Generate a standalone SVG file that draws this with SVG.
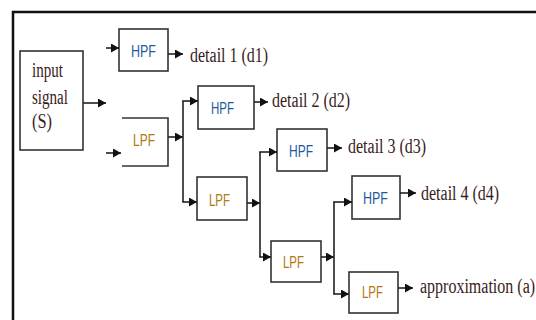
<svg xmlns="http://www.w3.org/2000/svg" width="536" height="320" viewBox="0 0 536 320">
<style>
.box{fill:#fff;stroke:#333;stroke-width:1.6}
.open{fill:none;stroke:#333;stroke-width:1.6}
.c{fill:none;stroke:#222;stroke-width:1.6}
.f{font-family:"Liberation Sans",Arial,sans-serif;font-size:17px}
.h{fill:#1f5a9e}
.l{fill:#b07810}
.t{font-family:"Liberation Serif","Times New Roman",serif;font-size:20px;fill:#3a1c1c}
.s{font-family:"Liberation Serif","Times New Roman",serif;font-size:16px;fill:#3a1c1c}
</style>
<defs>
<marker id="ah" markerWidth="9" markerHeight="9" refX="8" refY="4.5" orient="auto" markerUnits="userSpaceOnUse">
<path d="M0,0 L8,4.5 L0,9 z" fill="#111"/>
</marker>
</defs>
<rect width="536" height="320" fill="#fff"/>
<path d="M13,320 V12 H536" fill="none" stroke="#111" stroke-width="2.5"/>

<g id="input">
<rect class="box" x="20" y="51" width="63" height="99"/>
<text class="t" x="32" y="77" textLength="31" lengthAdjust="spacingAndGlyphs">input</text>
<text class="t" x="32" y="104" textLength="36" lengthAdjust="spacingAndGlyphs">signal</text>
<text class="t" x="32" y="128" textLength="20" lengthAdjust="spacingAndGlyphs">(S)</text>
</g>

<g id="hpf1">
<rect class="box" x="119" y="29" width="49" height="42"/>
<text class="f h" x="131" y="57" textLength="25" lengthAdjust="spacingAndGlyphs">HPF</text>
</g>
<g id="lpf1">
<path class="open" d="M122,118 H168 V166 H122"/>
<text class="f l" x="133" y="146" textLength="22" lengthAdjust="spacingAndGlyphs">LPF</text>
</g>
<g id="hpf2">
<rect class="box" x="198" y="86" width="56" height="43"/>
<text class="f h" x="211" y="114" textLength="23" lengthAdjust="spacingAndGlyphs">HPF</text>
</g>
<g id="lpf2">
<rect class="box" x="197" y="177" width="50" height="43"/>
<text class="f l" x="209" y="206" textLength="21" lengthAdjust="spacingAndGlyphs">LPF</text>
</g>
<g id="hpf3">
<rect class="box" x="277" y="129" width="50" height="42"/>
<text class="f h" x="289" y="157" textLength="24" lengthAdjust="spacingAndGlyphs">HPF</text>
</g>
<g id="lpf3">
<rect class="box" x="271" y="241" width="50" height="41"/>
<text class="f l" x="283" y="268" textLength="21" lengthAdjust="spacingAndGlyphs">LPF</text>
</g>
<g id="hpf4">
<rect class="box" x="352" y="176" width="48" height="43"/>
<text class="f h" x="363" y="204" textLength="25" lengthAdjust="spacingAndGlyphs">HPF</text>
</g>
<g id="lpf4">
<rect class="box" x="349" y="272" width="49" height="41"/>
<text class="f l" x="362" y="298" textLength="21" lengthAdjust="spacingAndGlyphs">LPF</text>
</g>

<g id="labels">
<text class="s" transform="translate(190,62) scale(1,1.25)">detail 1 (d1)</text>
<text class="s" transform="translate(272,107) scale(1,1.25)">detail 2 (d2)</text>
<text class="s" transform="translate(348,153) scale(1,1.25)">detail 3 (d3)</text>
<text class="s" transform="translate(421,200) scale(1,1.25)">detail 4 (d4)</text>
<text class="s" transform="translate(420,293) scale(1,1.25)" font-size="15.5">approximation (a)</text>
</g>

<g id="connectors">
<line class="c" x1="106" y1="48" x2="119" y2="48" marker-end="url(#ah)"/>
<line class="c" x1="168" y1="54" x2="183" y2="54" marker-end="url(#ah)"/>
<line class="c" x1="83" y1="103" x2="106" y2="103" marker-end="url(#ah)"/>
<line class="c" x1="106" y1="153" x2="121" y2="153" marker-end="url(#ah)"/>
<line class="c" x1="168" y1="137" x2="183" y2="137" marker-end="url(#ah)"/>
<line class="c" x1="183" y1="101" x2="183" y2="202"/>
<line class="c" x1="182.2" y1="101" x2="198" y2="101" marker-end="url(#ah)"/>
<line class="c" x1="182.2" y1="202" x2="197" y2="202" marker-end="url(#ah)"/>
<line class="c" x1="254" y1="102" x2="268" y2="102" marker-end="url(#ah)"/>
<line class="c" x1="247" y1="203" x2="260" y2="203" marker-end="url(#ah)"/>
<line class="c" x1="260" y1="152" x2="260" y2="257"/>
<line class="c" x1="259.2" y1="152" x2="277" y2="152" marker-end="url(#ah)"/>
<line class="c" x1="259.2" y1="257" x2="271" y2="257" marker-end="url(#ah)"/>
<line class="c" x1="327" y1="148" x2="342" y2="148" marker-end="url(#ah)"/>
<line class="c" x1="321" y1="257" x2="334" y2="257" marker-end="url(#ah)"/>
<line class="c" x1="334" y1="202" x2="334" y2="294"/>
<line class="c" x1="333.2" y1="202" x2="352" y2="202" marker-end="url(#ah)"/>
<line class="c" x1="333.2" y1="294" x2="349" y2="294" marker-end="url(#ah)"/>
<line class="c" x1="400" y1="193" x2="416" y2="193" marker-end="url(#ah)"/>
<line class="c" x1="398" y1="288" x2="413" y2="288" marker-end="url(#ah)"/>
</g>
</svg>
